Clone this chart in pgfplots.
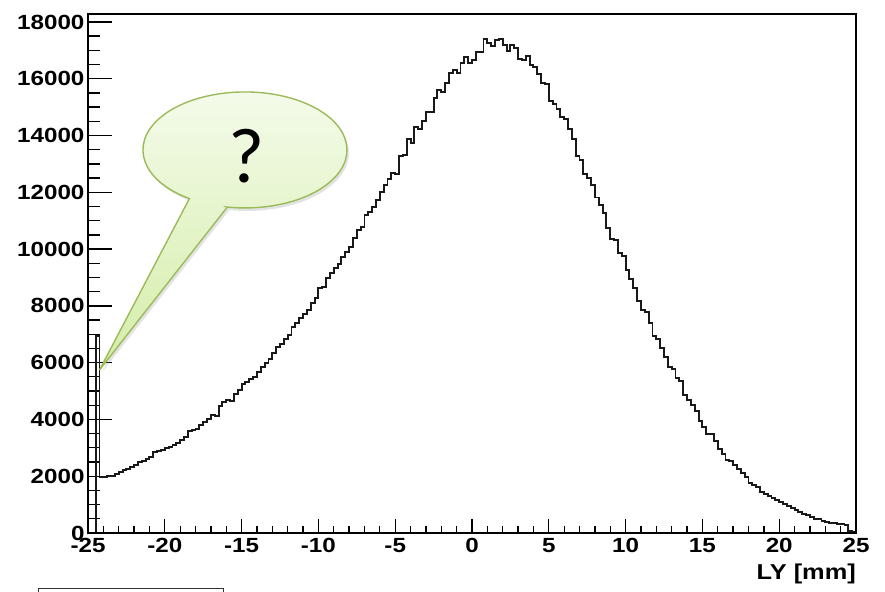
\documentclass[border=0pt]{standalone}
\usepackage{fontspec}
\usepackage{pgfplots}
\usepackage{pgfplotstable}
\pgfplotsset{compat=1.18}
\usetikzlibrary{shadows}
\setmainfont{Liberation Sans}
\newfontfamily\rootfont{Liberation Sans}[FakeStretch=1.18]
\newfontfamily\calloutfont{Carlito}
\definecolor{calloutEdge}{HTML}{9BBB59}
\definecolor{calloutTop}{HTML}{F5FBEC}
\definecolor{calloutBottom}{HTML}{D4EDA8}

% LY distribution, 0.25 mm bins: left bin edge and entries
\pgfplotstableread{
x y
-25.00 0
-24.75 0
-24.50 6950
-24.25 1960
-24.00 1965
-23.75 2000
-23.50 2020
-23.25 2090
-23.00 2160
-22.75 2220
-22.50 2265
-22.25 2335
-22.00 2405
-21.75 2510
-21.50 2550
-21.25 2605
-21.00 2690
-20.75 2865
-20.50 2900
-20.25 2935
-20.00 2980
-19.75 3040
-19.50 3090
-19.25 3180
-19.00 3275
-18.75 3395
-18.50 3595
-18.25 3630
-18.00 3675
-17.75 3805
-17.50 3920
-17.25 4005
-17.00 4170
-16.75 4135
-16.50 4475
-16.25 4625
-16.00 4690
-15.75 4660
-15.50 4900
-15.25 5040
-15.00 5250
-14.75 5330
-14.50 5410
-14.25 5505
-14.00 5685
-13.75 5860
-13.50 5975
-13.25 6140
-13.00 6330
-12.75 6565
-12.50 6655
-12.25 6820
-12.00 6975
-11.75 7245
-11.50 7385
-11.25 7560
-11.00 7715
-10.75 7855
-10.50 8090
-10.25 8265
-10.00 8620
-9.75 8675
-9.50 8970
-9.25 9145
-9.00 9320
-8.75 9475
-8.50 9735
-8.25 9910
-8.00 10085
-7.75 10380
-7.50 10675
-7.25 10790
-7.00 11200
-6.75 11305
-6.50 11495
-6.25 11730
-6.00 12025
-5.75 12260
-5.50 12455
-5.25 12670
-5.00 12645
-4.75 13280
-4.50 13315
-4.25 13865
-4.00 13725
-3.75 14310
-3.50 14240
-3.25 14510
-3.00 14840
-2.75 14840
-2.50 15310
-2.25 15615
-2.00 15545
-1.75 15860
-1.50 16190
-1.25 16310
-1.00 16215
-0.75 16555
-0.50 16770
-0.25 16545
0.00 16660
0.25 16955
0.50 16955
0.75 17390
1.00 17250
1.25 17155
1.50 17365
1.75 17390
2.00 17190
2.25 16990
2.50 17190
2.75 17070
3.00 16695
3.25 16660
3.50 16800
3.75 16475
4.00 16405
4.25 16180
4.50 15860
4.75 15805
5.00 15230
5.25 15110
5.50 14935
5.75 14640
6.00 14585
6.25 14230
6.50 13880
6.75 13280
7.00 13125
7.25 12635
7.50 12505
7.75 12260
8.00 11815
8.25 11555
8.50 11270
8.75 10755
9.00 10355
9.25 10320
9.50 9850
9.75 9745
10.00 9275
10.25 8960
10.50 8640
10.75 8160
11.00 7845
11.25 7785
11.50 7385
11.75 6925
12.00 6835
12.25 6530
12.50 6190
12.75 5860
13.00 5790
13.25 5450
13.50 5365
13.75 4860
14.00 4685
14.25 4510
14.50 4310
14.75 3955
15.00 3745
15.25 3495
15.50 3485
15.75 3250
16.00 2960
16.25 2795
16.50 2570
16.75 2550
17.00 2385
17.25 2240
17.50 2115
17.75 1985
18.00 1750
18.25 1690
18.50 1610
18.75 1455
19.00 1360
19.25 1305
19.50 1220
19.75 1160
20.00 1090
20.25 1035
20.50 965
20.75 880
21.00 810
21.25 750
21.50 680
21.75 635
22.00 550
22.25 505
22.50 480
22.75 425
23.00 400
23.25 365
23.50 340
23.75 330
24.00 315
24.25 290
24.50 80
24.75 30
25.00 30
}\lytable

\pgfplotsset{
  rootframe/.style={
    at={(88pt,58pt)}, anchor=south west,
    scale only axis, width=768pt, height=519pt,
    xmin=-25, xmax=25, ymin=0, ymax=18280,
    axis line style={line width=1.6pt, black},
    tick align=inside,
    tick style={line width=1.3pt, black},
    ticklabel style={font=\rootfont\bfseries\fontsize{20.5}{24}\selectfont},
    clip=false,
  },
}

\begin{document}
\begin{tikzpicture}
\useasboundingbox (0pt,0pt) rectangle (885pt,591pt);

% histogram with the vertical axis ticks
\begin{axis}[rootframe,
  xtick=\empty,
  ytick={0,2000,4000,6000,8000,10000,12000,14000,16000,18000},
  yticklabels={0,2000,4000,6000,8000,10000,12000,14000,16000,18000},
  minor y tick num=3,
  ytick pos=left,
  major tick length=24pt, minor tick length=12pt,
]
\addplot[const plot, line width=1.9pt, black!90, line join=miter] table[x=x, y=y] {\lytable};
\end{axis}

% horizontal axis ticks and title
\begin{axis}[rootframe,
  ytick=\empty,
  xtick={-25,-20,-15,-10,-5,0,5,10,15,20,25},
  xticklabels={-25,-20,-15,-10,-5,0,5,10,15,20,25},
  minor x tick num=4,
  xtick pos=bottom,
  major tick length=14pt, minor tick length=7pt,
  xticklabel style={yshift=-1.5pt},
]
\node[anchor=base east, inner sep=0pt, font=\rootfont\bfseries\fontsize{21.5}{24}\selectfont]
  at ([yshift=-46pt]rel axis cs:1,0) {LY [mm]};
\end{axis}

% speech bubble
\path[draw=calloutEdge, line width=1.4pt, top color=calloutTop, bottom color=calloutBottom,
      drop shadow={opacity=0.22, shadow xshift=2pt, shadow yshift=-3pt}]
  (227.3pt,383.9pt) -- (99.5pt,221pt) -- (189.4pt,392.4pt)
  arc[start angle=237, end angle=-100, x radius=102pt, y radius=58pt] -- cycle;
\node[font=\calloutfont\fontsize{78}{80}\selectfont, inner sep=0pt] at (247pt,435pt) {?};

% frame partly visible at the lower edge
\draw[line width=1pt, black!80] (38pt,-3pt) -- (38pt,3pt) -- (223pt,3pt) -- (223pt,-3pt);
\end{tikzpicture}
\end{document}
